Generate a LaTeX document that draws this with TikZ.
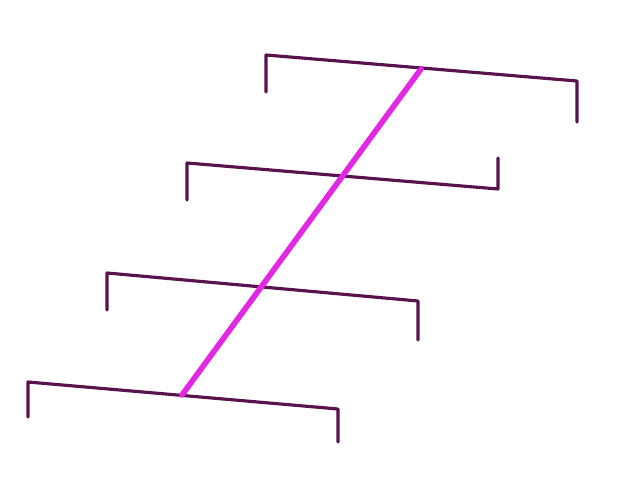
\documentclass[tikz,border=0pt]{standalone}
\definecolor{barpurple}{RGB}{88,18,78}
\definecolor{stemmagenta}{RGB}{226,40,226}
\begin{document}
\begin{tikzpicture}[x=0.02cm, y=-0.02cm]
    \tikzstyle{bar} = [draw=barpurple, line width=1.8pt, line join=round, line cap=round]
    \tikzstyle{stem} = [draw=stemmagenta, line width=3.2pt, line cap=round]
    \useasboundingbox (0,0) rectangle (622,489);

    \coordinate (barA-l) at (266,55);  \coordinate (barA-r) at (577,81);
    \coordinate (barB-l) at (187,163); \coordinate (barB-r) at (498,189);
    \coordinate (barC-l) at (107,273); \coordinate (barC-r) at (418,301);
    \coordinate (barD-l) at (28,382);  \coordinate (barD-r) at (338,409);
    \coordinate (stem-top) at (421,69);
    \coordinate (stem-bot) at (182,395);

    \draw[bar] (barA-l) ++(0,37) -- (barA-l) -- (barA-r) -- ++(0,41);
    \draw[bar] (barB-l) ++(0,37) -- (barB-l) -- (barB-r) -- ++(0,-31);
    \draw[bar] (barC-l) ++(0,37) -- (barC-l) -- (barC-r) -- ++(0,39);
    \draw[bar] (barD-l) ++(0,35) -- (barD-l) -- (barD-r) -- ++(0,33);

    \draw[stem] (stem-top) -- (stem-bot);
\end{tikzpicture}
\end{document}
